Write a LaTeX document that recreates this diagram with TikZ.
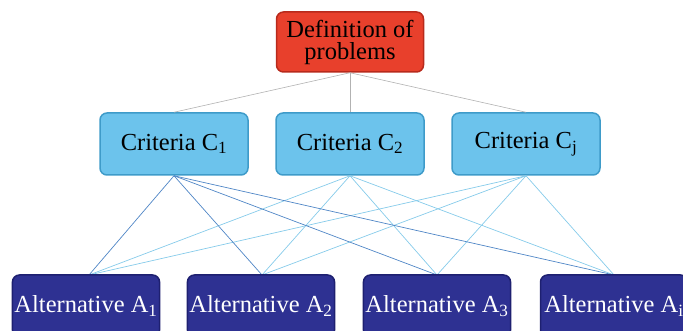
\documentclass[tikz,border=0pt]{standalone}
\usepackage{fontspec}
\setmainfont{Liberation Serif}
\usepackage{tikz}

\definecolor{probred}{HTML}{E8402C}
\definecolor{probedge}{HTML}{B82A1C}
\definecolor{critblue}{HTML}{6CC3EC}
\definecolor{critedge}{HTML}{3E9BC9}
\definecolor{altnavy}{HTML}{2E3192}
\definecolor{altedge}{HTML}{1E2070}
\definecolor{darkline}{HTML}{4F86C6}
\definecolor{lightline}{HTML}{86CBEA}

\begin{document}
\begin{tikzpicture}
  [x=1pt,y=-1pt,
   box/.style={rectangle,rounded corners=7pt,line width=1.5pt,align=center,
     inner sep=2pt,font=\fontsize{24.5}{22}\selectfont},
   prob/.style={box,fill=probred,draw=probedge,text=black,minimum width=147pt,minimum height=60pt},
   crit/.style={box,fill=critblue,draw=critedge,text=black,minimum width=148pt,minimum height=62pt},
   alt/.style={box,fill=altnavy,draw=altedge,text=white,minimum width=147pt,minimum height=62pt}]
  \useasboundingbox (0,0) rectangle (683,331);

  \node[prob] (p) at (350,42) {Definition of\\problems};

  \node[crit] (c1) at (174,144) {Criteria C\textsubscript{1}};
  \node[crit] (c2) at (350,144) {Criteria C\textsubscript{2}};
  \node[crit] (cj) at (526,144) {Criteria C\textsubscript{j}};

  % links from problem to criteria
  \foreach \to in {c1,c2,cj}
    \draw[gray!60,line width=.6pt] (p.south) -- (\to.north);

  % links from criteria to alternatives
  \coordinate (t1) at (89,275);
  \coordinate (t2) at (262,275);
  \coordinate (t3) at (437,275);
  \coordinate (t4) at (614,275);
  \foreach \to in {t1,t2,t3,t4}
    \draw[lightline,line width=.7pt] (c2.south) -- (\to);
  \foreach \to in {t1,t2,t3,t4}
    \draw[lightline,line width=.7pt] (cj.south) -- (\to);
  \foreach \to in {t1,t2,t3,t4}
    \draw[darkline,line width=.7pt] (c1.south) -- (\to);

  \node[alt] (a1) at (86,306)  {Alternative A\textsubscript{1}};
  \node[alt] (a2) at (261,306) {Alternative A\textsubscript{2}};
  \node[alt] (a3) at (437,306) {Alternative A\textsubscript{3}};
  \node[alt] (a4) at (614,306) {Alternative A\textsubscript{i}};

\end{tikzpicture}
\end{document}
